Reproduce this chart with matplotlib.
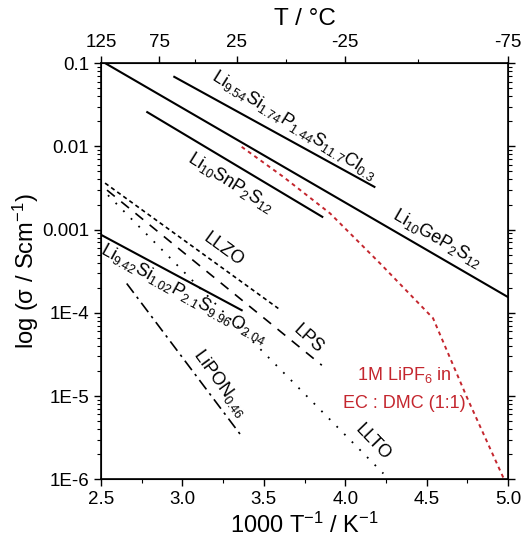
import numpy as np
import matplotlib.pyplot as plt
from matplotlib.ticker import FixedLocator, FixedFormatter, LogLocator, MultipleLocator, NullFormatter

plt.rcParams['font.family'] = ['Liberation Sans', 'DejaVu Sans']
plt.rcParams['mathtext.fontset'] = 'custom'
plt.rcParams['mathtext.rm'] = 'Liberation Sans'
plt.rcParams['mathtext.it'] = 'Liberation Sans:italic'
plt.rcParams['mathtext.default'] = 'regular'

# data: 1000/T (K^-1) and log10(sigma / S cm^-1)
lgps_x = [2.525, 5.0]
lgps_y = [-1.0, -3.812]
lspsc_x = [2.950, 4.179]
lspsc_y = [-1.165, -2.487]
lsnps_x = [2.784, 3.859]
lsnps_y = [-1.589, -2.847]
lspso_x = [2.504, 3.364]
lspso_y = [-3.067, -3.969]
lipon_x = [2.658, 3.370]
lipon_y = [-3.648, -5.499]
llzo_x = [2.525, 3.589]
llzo_y = [-2.442, -3.948]
lps_x = [2.537, 3.856]
lps_y = [-2.526, -4.630]
llto_x = [2.543, 4.234]
llto_y = [-2.587, -5.931]
elyte_x = [3.364, 3.620, 3.907, 4.214, 4.539, 4.746, 4.975]
elyte_y = [-2.006, -2.367, -2.806, -3.407, -4.065, -5.011, -6.0]

ytick_vals = [1e-6, 1e-5, 1e-4, 1e-3, 1e-2, 1e-1]
ytick_labels = ['1E-6', '1E-5', '1E-4', '0.001', '0.01', '0.1']
top_major_T = [125, 75, 25, -25, -75]
top_minor_T = [50, 0, -50]

red = '#c4262e'

fig = plt.figure(figsize=(5.26, 5.44), dpi=100)
ax = fig.add_axes([0.192, 0.119, 0.774, 0.765])


def p(x, y, **kw):
    ax.plot(x, 10 ** np.array(y), **kw)


p(lgps_x, lgps_y, color='black', lw=1.5)
p(lspsc_x, lspsc_y, color='black', lw=1.5)
p(lsnps_x, lsnps_y, color='black', lw=1.5)
p(lspso_x, lspso_y, color='black', lw=1.5)
p(lipon_x, lipon_y, color='black', lw=1.2, ls=(0, (7, 3, 1.5, 3)))
p(llzo_x, llzo_y, color='black', lw=1.2, ls=(0, (2.5, 2)))
p(lps_x, lps_y, color='black', lw=1.2, ls=(0, (6, 5)))
p(llto_x, llto_y, color='black', lw=1.3, ls=(0, (1, 5)))
p(elyte_x, elyte_y, color=red, lw=1.4, ls=(0, (2, 2)))

ax.set_yscale('log')
ax.set_xlim(2.5, 5.0)
ax.set_ylim(1e-6, 0.1)
ax.yaxis.set_major_locator(FixedLocator(ytick_vals))
ax.yaxis.set_major_formatter(FixedFormatter(ytick_labels))
ax.yaxis.set_minor_locator(LogLocator(base=10, subs=np.arange(2, 10)))
ax.yaxis.set_minor_formatter(NullFormatter())
ax.xaxis.set_major_locator(MultipleLocator(0.5))
ax.xaxis.set_minor_locator(MultipleLocator(0.25))
ax.xaxis.set_major_formatter(plt.FuncFormatter(lambda v, pos: f'{v:.1f}'))
ax.tick_params(which='both', direction='out', labelsize=13.5, right=True)
ax.tick_params(which='major', length=5, width=1)
ax.tick_params(which='minor', length=3, width=0.8)
for s in ax.spines.values():
    s.set_linewidth(1.2)

ax.set_xlabel('1000 T$^{-1}$ / K$^{-1}$', fontsize=17, labelpad=3)
ax.set_ylabel('log (σ / Scm$^{-1}$)', fontsize=17, labelpad=1)

# top axis in degrees C
top = ax.twiny()
top.set_xlim(ax.get_xlim())
top.set_xticks([1000 / (t + 275) for t in top_major_T])
top.set_xticklabels([str(t) for t in top_major_T])
top.set_xticks([1000 / (t + 275) for t in top_minor_T], minor=True)
top.tick_params(which='both', direction='out', labelsize=13.5)
top.tick_params(which='major', length=5, width=1)
top.tick_params(which='minor', length=3, width=0.8)
top.set_xlabel('T / °C', fontsize=17.5, labelpad=7)

# labels along the lines
fs = 13
ax.text(3.69, 10 ** -1.75, r'Li$_{9.54}$Si$_{1.74}$P$_{1.44}$S$_{11.7}$Cl$_{0.3}$',
        rotation=-32, ha='center', va='center', fontsize=fs)
ax.text(3.30, 10 ** -2.43, r'Li$_{10}$SnP$_2$S$_{12}$', rotation=-32,
        ha='center', va='center', fontsize=fs)
ax.text(4.567, 10 ** -3.11, r'Li$_{10}$GeP$_2$S$_{12}$', rotation=-30,
        ha='center', va='center', fontsize=fs)
ax.text(3.25, 10 ** -3.24, 'LLZO', rotation=-36, ha='center', va='center', fontsize=fs)
ax.text(3.77, 10 ** -4.32, 'LPS', rotation=-42, ha='center', va='center', fontsize=fs)
ax.text(3.01, 10 ** -3.77, r'Li$_{9.42}$Si$_{1.02}$P$_{2.1}$S$_{9.96}$O$_{2.04}$',
        rotation=-29, ha='center', va='center', fontsize=fs)
ax.text(3.23, 10 ** -4.84, r'LiPON$_{0.46}$', rotation=-54, ha='center', va='center', fontsize=fs)
ax.text(4.17, 10 ** -5.56, 'LLTO', rotation=-46, ha='center', va='center', fontsize=fs)
ax.text(4.36, 10 ** -4.91, '1M LiPF$_6$ in\nEC : DMC (1:1)', color=red,
        ha='center', va='center', fontsize=13, linespacing=1.7)

fig.savefig('out.png', dpi=100)
